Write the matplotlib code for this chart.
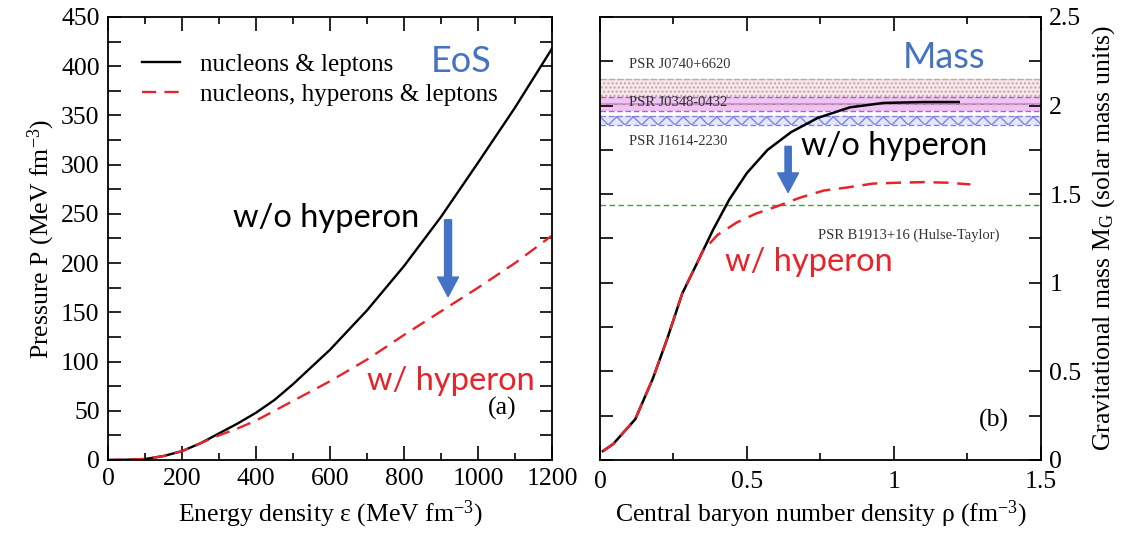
import numpy as np
import matplotlib
matplotlib.use("Agg")
import matplotlib.pyplot as plt
from matplotlib.ticker import MultipleLocator

# ---- (a) equation of state: pressure vs energy density ----
eps = [0, 50, 100, 150, 200, 250, 300, 350, 400, 450, 500, 600, 700, 800, 900, 1000, 1100, 1200]
p_nucl = [0, 0.3, 1, 4, 9, 17, 27, 37, 48, 61, 77, 112, 152, 197, 247, 302, 358, 418]
p_hyp = [0, 0.3, 1, 4, 9, 17, 25, 32, 40, 50, 60, 80, 102, 127, 151, 175, 200, 228]

# ---- (b) mass vs central baryon density ----
rho_nucl = [0.01, 0.045, 0.12, 0.18, 0.23, 0.28, 0.33, 0.385, 0.44, 0.5, 0.57, 0.65, 0.74, 0.85, 0.965, 1.1, 1.22]
m_nucl = [0.05, 0.09, 0.23, 0.46, 0.69, 0.94, 1.11, 1.30, 1.47, 1.62, 1.75, 1.85, 1.93, 1.99, 2.015, 2.02, 2.02]
rho_hyp = [0.01, 0.045, 0.12, 0.18, 0.23, 0.28, 0.33, 0.35, 0.40, 0.465, 0.53, 0.6, 0.68, 0.76, 0.85, 0.93, 1.02, 1.1, 1.18, 1.26]
m_hyp = [0.05, 0.09, 0.23, 0.46, 0.69, 0.94, 1.11, 1.18, 1.27, 1.34, 1.39, 1.43, 1.48, 1.52, 1.54, 1.56, 1.565, 1.568, 1.565, 1.555]

# pulsar mass constraints (solar masses)
psr_names = ["PSR J0740+6620", "PSR J0348-0432", "PSR J1614-2230"]
psr_low = [2.01, 1.97, 1.89]
psr_high = [2.15, 2.05, 1.94]
hulse_taylor = 1.44

serif = "Liberation Serif"
sans = "Lato"
plt.rcParams["font.family"] = serif
plt.rcParams["mathtext.fontset"] = "custom"
plt.rcParams["mathtext.rm"] = serif
plt.rcParams["mathtext.it"] = serif + ":italic"
plt.rcParams["hatch.linewidth"] = 1.0

BLUE = "#4472c4"
RED = "#e8232a"
FS = 18.5
ANN = 23.5

fig = plt.figure(figsize=(11.25, 5.34), dpi=100)
ax1 = fig.add_axes([0.096, 0.1386, 0.3947, 0.8296])
ax2 = fig.add_axes([0.5333, 0.1386, 0.392, 0.8296])

for ax in (ax1, ax2):
    for s in ax.spines.values():
        s.set_linewidth(1.3)
    ax.tick_params(which="both", direction="in", top=True, right=True,
                   labelsize=FS, width=1.2, pad=6)

# ----- panel (a) -----
ax1.plot(eps, p_nucl, color="black", lw=1.7, label="nucleons & leptons")
ax1.plot(eps, p_hyp, color=RED, lw=1.7, dashes=(6, 3.5),
         label="nucleons, hyperons & leptons")
ax1.set_xlim(0, 1200)
ax1.set_ylim(0, 450)
ax1.xaxis.set_major_locator(MultipleLocator(200))
ax1.xaxis.set_minor_locator(MultipleLocator(100))
ax1.yaxis.set_major_locator(MultipleLocator(50))
ax1.yaxis.set_minor_locator(MultipleLocator(25))
ax1.tick_params(axis="x", which="major", length=10)
ax1.tick_params(axis="x", which="minor", length=5)
ax1.tick_params(axis="y", which="both", length=9)
ax1.set_xlabel(r"Energy density ε (MeV fm$^{-3}$)", fontsize=FS, labelpad=6)
ax1.set_ylabel(r"Pressure P (MeV fm$^{-3}$)", fontsize=FS, labelpad=3)

leg = ax1.legend(loc="upper left", bbox_to_anchor=(0.055, 0.94), frameon=False,
                 fontsize=FS - 0.5, handlelength=1.5, handletextpad=0.8,
                 labelspacing=0.3, borderaxespad=0)

ax1.text(1065, 52, "(a)", fontsize=FS, ha="center", va="center")
ax1.text(589, 246, "w/o hyperon", family=sans, fontsize=ANN, ha="center", va="center", color="black")
ax1.text(926, 80, "w/ hyperon", family=sans, fontsize=ANN, ha="center", va="center", color=RED)
ax1.text(955, 405, "EoS", family=sans, fontsize=26, ha="center", va="center", color=BLUE)
ax1.annotate("", xy=(919, 166), xytext=(919, 244),
             arrowprops=dict(arrowstyle="simple,head_width=1.5,head_length=1.4,tail_width=0.5",
                             color=BLUE, mutation_scale=10, shrinkA=0, shrinkB=0))

# ----- panel (b) -----
band_styles = [
    dict(facecolor="#f6e8ea", edgecolor="#c9a3a6", hatch="...."),
    dict(facecolor="#efc3f2", edgecolor="#b35bd8", hatch="--"),
    dict(facecolor="#e4e6fb", edgecolor="#7d86e6", hatch="xx"),
]
for lo, hi, st in zip(psr_low, psr_high, band_styles):
    ax2.axhspan(lo, hi, facecolor=st["facecolor"], edgecolor=st["edgecolor"],
                hatch=st["hatch"], linewidth=0, zorder=1)
    for yy in (lo, hi):
        ax2.axhline(yy, color=st["edgecolor"], lw=1.0, dashes=(4, 2), zorder=1.5)

ax2.axhline(hulse_taylor, color="#3aa33a", lw=1.0, dashes=(4, 2.5), zorder=1.5)

ax2.plot(rho_nucl, m_nucl, color="black", lw=1.8, zorder=3)
ax2.plot(rho_hyp, m_hyp, color=RED, lw=1.8, dashes=(6, 3.5), zorder=4)

ax2.set_xlim(0, 1.5)
ax2.set_ylim(0, 2.5)
ax2.xaxis.set_major_locator(MultipleLocator(0.5))
ax2.xaxis.set_minor_locator(MultipleLocator(0.25))
ax2.yaxis.set_major_locator(MultipleLocator(0.5))
ax2.yaxis.set_minor_locator(MultipleLocator(0.25))
ax2.xaxis.set_major_formatter(plt.FuncFormatter(lambda v, _: f"{v:g}"))
ax2.yaxis.set_major_formatter(plt.FuncFormatter(lambda v, _: f"{v:g}"))
ax2.tick_params(axis="x", which="major", length=10, pad=8)
ax2.tick_params(axis="x", which="minor", length=5)
ax2.tick_params(axis="y", which="both", length=9, labelleft=False, labelright=True)
ax2.yaxis.set_label_position("right")
ax2.set_xlabel(r"Central baryon number density ρ (fm$^{-3}$)", fontsize=FS, labelpad=4)
ax2.set_ylabel(r"Gravitational mass M$_\mathrm{G}$ (solar mass units)", fontsize=FS, labelpad=6)

psr_fs = 10.5
psr_col = "#333333"
ax2.text(0.1, 2.23, psr_names[0], fontsize=psr_fs, color=psr_col, va="center", zorder=5)
ax2.text(0.1, 2.015, psr_names[1], fontsize=psr_fs, color=psr_col, va="center", zorder=5)
ax2.text(0.1, 1.8, psr_names[2], fontsize=psr_fs, color=psr_col, va="center", zorder=5)
ax2.text(1.05, 1.27, "PSR B1913+16 (Hulse-Taylor)", fontsize=psr_fs, color=psr_col,
         ha="center", va="center", zorder=5)

ax2.text(1.34, 0.225, "(b)", fontsize=FS, ha="center", va="center")
ax2.text(1.0, 1.77, "w/o hyperon", family=sans, fontsize=ANN, ha="center", va="center", color="black")
ax2.text(0.71, 1.12, "w/ hyperon", family=sans, fontsize=ANN, ha="center", va="center", color=RED)
ax2.text(1.17, 2.27, "Mass", family=sans, fontsize=26, ha="center", va="center", color=BLUE)
ax2.annotate("", xy=(0.64, 1.51), xytext=(0.64, 1.77),
             arrowprops=dict(arrowstyle="simple,head_width=1.5,head_length=1.4,tail_width=0.45",
                             color=BLUE, mutation_scale=10, shrinkA=0, shrinkB=0), zorder=5)

fig.savefig("out.png", dpi=100)
